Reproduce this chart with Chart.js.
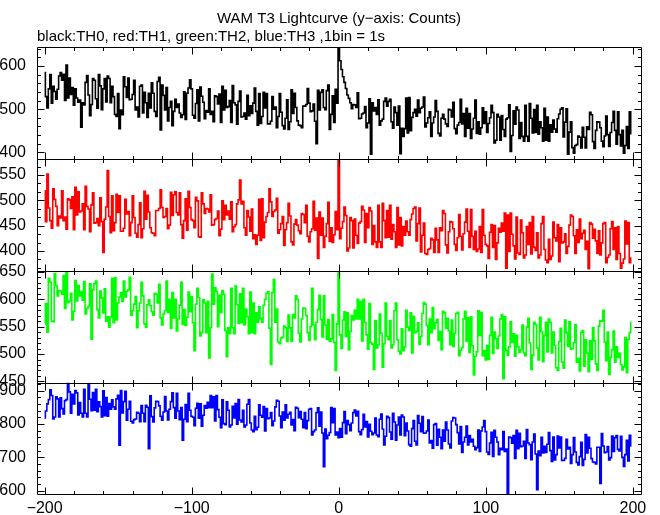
<!DOCTYPE html>
<html lang="en">
<head>
    <meta charset="UTF-8">
    <title>WAM T3 Lightcurve</title>
    <script src="https://cdn.jsdelivr.net/npm/chart.js"></script>
    <style>
        body { margin: 0; background: #ffffff; }
        canvas { display: block; }
    </style>
</head>
<body>
    <canvas id="lc" width="660" height="515"></canvas>
    <script>
        // time bins: 1 bin = 1 s, first bin at -200 s
        const binStart = -200;
        const binSize = 1;

        // TH0 (black)
        const th0 = [
            585,529,503,547,580,514,553,541,523,546,577,585,567,581,520,602,526,572,534,550,
            509,547,526,516,521,458,515,510,562,578,533,485,511,571,567,524,502,580,554,499,
            547,571,517,577,571,515,553,529,488,483,536,455,498,487,575,552,527,572,522,523,
            534,567,498,505,482,553,556,491,539,515,481,537,503,561,537,495,483,564,574,452,
            556,532,498,550,473,504,518,462,495,523,504,512,491,481,487,540,476,537,549,568,
            547,486,479,513,545,473,551,530,516,478,497,493,547,488,495,471,531,529,512,535,
            469,553,498,544,504,506,520,469,555,515,510,465,518,542,482,483,491,477,532,485,
            508,490,514,549,495,463,536,467,483,539,503,536,466,466,472,529,500,505,457,483,
            536,493,462,454,479,522,453,471,545,490,537,504,473,463,462,457,507,507,511,548,
            514,494,496,512,472,420,544,498,539,545,504,499,543,556,453,488,531,469,546,514,
            650,612,592,575,562,548,533,525,515,501,511,510,504,538,478,479,489,491,506,457,
            468,524,396,515,496,504,488,522,463,473,477,518,526,507,518,523,471,456,505,492,
            463,507,397,456,437,455,526,445,527,450,481,492,500,484,521,492,502,505,528,459,
            468,480,494,437,468,482,520,495,444,438,479,488,477,466,460,500,498,482,516,455,
            443,463,469,523,466,490,437,502,456,490,432,454,479,521,444,471,442,457,503,467,
            494,446,467,480,509,492,422,428,488,482,428,485,453,437,477,480,510,402,439,496,
            465,505,498,432,469,437,426,509,437,426,513,479,445,499,446,509,442,471,457,426,
            502,428,482,426,464,447,475,454,447,478,489,500,503,436,470,501,396,447,471,411,
            398,416,418,438,435,410,458,435,410,459,453,493,487,425,409,451,471,470,457,426,
            413,438,484,441,414,446,469,495,451,419,494,441,415,451,398,416,460,409,494,443
        ];

        // TH1 (red)
        const th1 = [
            519,458,552,485,460,445,523,502,488,450,469,465,519,460,467,443,503,501,484,507,
            442,526,471,517,477,479,493,442,528,488,483,438,491,515,455,456,464,450,505,458,
            397,463,487,559,468,436,509,440,456,512,476,509,439,439,445,502,473,478,430,456,
            509,466,435,427,452,495,426,444,518,463,510,477,446,436,435,430,480,480,484,521,
            486,466,468,484,444,451,516,470,511,517,476,471,515,452,425,460,503,441,518,486,
            462,460,446,506,499,428,427,515,493,474,484,483,477,511,451,452,462,464,479,430,
            443,499,462,490,471,479,463,497,438,448,452,493,501,540,493,498,446,431,480,467,
            439,483,424,432,413,431,502,421,503,426,457,468,476,523,497,468,478,481,504,435,
            442,454,468,411,442,456,494,469,418,412,453,462,451,440,434,474,472,456,490,429,
            418,438,444,498,441,465,385,477,431,465,407,429,454,496,419,446,417,432,478,442,
            582,424,445,458,487,470,400,406,466,460,406,463,431,415,455,458,488,481,417,474,
            446,486,479,413,450,418,407,490,418,407,494,460,426,480,427,490,423,452,438,407,
            486,412,466,410,448,431,459,438,431,462,473,484,487,420,454,485,398,431,455,395,
            393,403,405,425,422,397,445,422,397,446,440,480,474,412,396,438,458,457,444,413,
            401,426,472,429,402,434,457,483,439,407,482,429,403,439,399,404,448,397,482,431,
            413,410,385,437,452,407,450,383,416,445,437,455,439,475,366,471,399,475,433,410,
            384,467,396,393,461,436,386,392,448,413,456,394,468,407,401,436,386,392,454,468,
            403,382,377,423,383,390,457,426,420,452,379,446,416,418,434,395,409,451,471,468,
            430,395,442,417,463,424,435,441,403,419,365,456,453,425,443,420,395,440,392,416,
            454,456,377,387,392,444,458,403,446,383,448,395,366,376,384,459,414,456,377,386
        ];

        // TH2 (green)
        const th2 = [
            555,592,540,638,631,560,559,647,625,606,616,615,609,643,583,655,594,596,611,562,
            578,634,597,625,606,614,598,632,573,583,587,628,527,617,628,633,581,566,615,602,
            575,619,560,568,549,567,638,557,639,562,593,604,612,596,633,604,614,617,640,571,
            579,591,605,548,579,593,631,606,555,549,590,599,588,577,571,611,609,593,627,566,
            553,573,579,633,576,600,547,612,566,600,542,564,589,631,554,581,552,567,613,577,
            605,557,506,591,620,603,533,539,599,593,539,596,493,548,646,591,621,614,550,607,
            576,616,609,543,495,548,537,620,548,537,624,590,556,610,557,620,553,582,568,537,
            613,539,593,537,575,558,586,565,558,589,600,611,614,547,481,612,636,558,582,522,
            519,529,531,551,548,523,571,548,523,572,566,606,600,538,522,564,584,583,570,539,
            525,550,620,553,526,558,581,607,563,531,606,553,527,563,523,528,572,521,470,555,
            662,535,510,562,577,532,575,508,541,570,562,580,564,600,564,596,524,600,558,535,
            509,592,521,518,472,561,511,517,573,538,476,519,593,532,526,561,511,517,579,593,
            526,505,500,546,506,513,580,549,543,575,502,569,539,541,557,518,532,574,594,591,
            552,517,564,539,585,546,557,563,525,541,508,578,575,547,565,542,517,562,514,538,
            574,576,497,507,512,564,578,523,566,503,568,515,462,496,504,579,534,576,497,506,
            489,516,490,534,567,501,540,528,510,533,564,572,455,568,507,498,513,559,521,537,
            496,534,513,503,508,553,502,497,549,565,520,472,498,558,554,511,489,567,541,486,
            534,558,504,564,558,502,540,516,475,470,523,547,485,474,562,539,514,559,509,510,
            521,554,485,492,469,540,543,478,526,502,468,524,490,548,524,482,470,551,561,560,
            580,522,488,540,463,494,508,542,485,513,494,502,481,471,477,530,466,527,539,558
        ];

        // TH3 (blue)
        const th3 = [
            818,839,860,873,902,885,815,821,881,875,821,878,846,830,870,873,925,896,832,889,
            860,900,893,827,864,832,821,904,832,821,922,874,840,894,841,904,837,866,852,821,
            899,825,879,823,861,844,872,851,844,875,886,736,900,833,867,898,811,844,868,808,
            803,813,815,835,832,807,855,832,807,856,850,726,884,822,806,848,868,867,854,823,
            811,836,882,839,812,844,867,893,849,817,892,839,813,849,751,814,858,807,892,841,
            823,820,795,847,862,817,860,793,826,855,847,865,849,885,849,881,809,885,843,820,
            789,872,801,798,866,841,791,797,853,818,861,799,873,812,806,841,791,797,859,873,
            803,782,777,823,783,790,857,826,820,852,779,846,816,818,834,795,809,851,871,868,
            824,789,836,811,857,818,829,835,797,813,780,850,847,819,837,814,789,834,786,810,
            844,846,767,777,782,834,848,793,836,773,672,785,756,766,774,849,804,846,767,776,
            759,786,760,804,837,771,810,798,780,803,834,842,824,838,777,768,783,829,791,807,
            761,799,778,768,773,818,767,762,814,830,785,737,763,823,819,776,754,832,806,751,
            797,821,767,827,821,765,803,779,738,733,786,810,748,737,825,802,777,822,772,773,
            779,812,743,750,727,798,801,736,784,760,726,782,748,806,782,740,728,809,819,818,
            798,774,740,792,715,746,760,794,737,765,746,754,733,723,729,782,718,779,791,810,
            777,716,709,743,775,703,781,760,746,708,727,723,777,718,725,592,761,759,742,765,
            697,781,726,772,732,734,748,697,783,743,738,693,746,770,710,603,719,705,760,713,
            733,715,739,774,720,688,761,692,708,764,728,761,691,691,697,754,725,730,682,708,
            759,716,685,677,702,745,676,694,768,713,760,727,696,686,685,680,730,730,622,771,
            734,714,716,732,692,699,764,718,759,765,724,719,763,700,673,708,751,689,766,734
        ];

        const xTicks = [-200, -100, 0, 100, 200];
        const yTicks0 = [400, 500, 600];
        const yTicks1 = [400, 450, 500, 550];
        const yTicks2 = [450, 500, 550, 600, 650];
        const yTicks3 = [600, 700, 800, 900];

        // axis limits [min, max] of each panel
        const yLim0 = [385, 644];
        const yLim1 = [361, 582];
        const yLim2 = [448, 652];
        const yLim3 = [589, 924];

        // minor / major tick steps per panel
        const minorStep = { y0: 20, y1: 50 / 3, y2: 10, y3: 20 };
        const majorStep = { y0: 100, y1: 50, y2: 50, y3: 100 };

        Chart.defaults.font.family = '"Liberation Sans", Arial, sans-serif';
        Chart.defaults.color = '#000';

        function toPoints(arr) {
            return arr.map((v, i) => ({ x: binStart + i * binSize, y: v }));
        }

        function line(label, arr, axis, color) {
            return {
                label: label,
                data: toPoints(arr),
                yAxisID: axis,
                borderColor: color,
                borderWidth: 1.6,
                pointRadius: 0,
                stepped: 'middle',
                fill: false
            };
        }

        function yAxis(lim, ticks) {
            return {
                type: 'linear',
                position: 'left',
                stack: 'lc',
                stackWeight: 1,
                min: lim[0],
                max: lim[1],
                grid: { display: false, drawTicks: false },
                border: { display: false },
                ticks: { font: { size: 16 }, padding: 11, autoSkip: false },
                afterBuildTicks: s => { s.ticks = ticks.map(v => ({ value: v })); },
                afterFit: s => { s.width = 37; }
            };
        }

        // keep each curve inside its own panel
        const panelClip = {
            id: 'panelClip',
            beforeDatasetDraw(chart, args) {
                const s = chart.scales[args.meta.yAxisID];
                const a = chart.chartArea;
                chart.ctx.save();
                chart.ctx.beginPath();
                chart.ctx.rect(a.left, s.top, a.right - a.left, s.bottom - s.top);
                chart.ctx.clip();
            },
            afterDatasetDraw(chart) {
                chart.ctx.restore();
            }
        };

        // panel frames with inward ticks on all sides
        const frames = {
            id: 'frames',
            afterDatasetsDraw(chart) {
                const ctx = chart.ctx;
                const a = chart.chartArea;
                const xs = chart.scales.x;
                const snap = v => Math.round(v) + 0.5;
                ctx.save();
                ctx.strokeStyle = '#000';
                ctx.lineWidth = 1;
                ['y0', 'y1', 'y2', 'y3'].forEach(id => {
                    const s = chart.scales[id];
                    const top = snap(s.top), bot = snap(s.bottom);
                    const l = snap(a.left), r = snap(a.right);
                    ctx.beginPath();
                    ctx.rect(l, top, r - l, bot - top);
                    for (let v = -200; v <= 200; v += 20) {
                        const px = snap(xs.getPixelForValue(v));
                        const len = v % 100 === 0 ? 7 : 3.5;
                        ctx.moveTo(px, top); ctx.lineTo(px, top + len);
                        ctx.moveTo(px, bot); ctx.lineTo(px, bot - len);
                    }
                    const st = minorStep[id], mj = majorStep[id];
                    const first = Math.ceil(s.min / st - 1e-6);
                    for (let k = first; k * st <= s.max + 1e-6; k++) {
                        const v = k * st;
                        const py = snap(s.getPixelForValue(v));
                        const isMajor = Math.abs(v / mj - Math.round(v / mj)) < 1e-6;
                        const len = isMajor ? 7 : 3.5;
                        ctx.moveTo(l, py); ctx.lineTo(l + len, py);
                        ctx.moveTo(r, py); ctx.lineTo(r - len, py);
                    }
                    ctx.stroke();
                });
                ctx.restore();
            }
        };

        new Chart(document.getElementById('lc'), {
            type: 'line',
            data: {
                datasets: [
                    line('TH0', th0, 'y0', '#000000'),
                    line('TH1', th1, 'y1', '#ff0000'),
                    line('TH2', th2, 'y2', '#00ff00'),
                    line('TH3', th3, 'y3', '#0000ff')
                ]
            },
            options: {
                responsive: false,
                animation: false,
                events: [],
                layout: { padding: { left: 0, right: 19, top: 0, bottom: 0 } },
                plugins: {
                    legend: { display: false },
                    tooltip: { enabled: false },
                    title: {
                        display: true,
                        text: 'WAM T3 Lightcurve (y\u2212axis: Counts)',
                        fullSize: false,
                        font: { size: 15, weight: 'normal' },
                        padding: { top: 10, bottom: 0 }
                    },
                    subtitle: {
                        display: true,
                        text: 'black:TH0, red:TH1, green:TH2, blue:TH3 ,1bin = 1s',
                        fullSize: false,
                        align: 'start',
                        font: { size: 15, weight: 'normal' },
                        padding: { top: 0, bottom: 1 }
                    }
                },
                scales: {
                    x: {
                        type: 'linear',
                        min: -205.2,
                        max: 205.5,
                        grid: { display: false, drawTicks: false },
                        border: { display: false },
                        ticks: {
                            font: { size: 16 },
                            padding: 5,
                            autoSkip: false,
                            maxRotation: 0,
                            callback: v => String(v).replace('-', '\u2212')
                        },
                        afterBuildTicks: s => { s.ticks = xTicks.map(v => ({ value: v })); },
                        afterFit: s => { s.height = 19; }
                    },
                    y3: yAxis(yLim3, yTicks3),
                    y2: yAxis(yLim2, yTicks2),
                    y1: yAxis(yLim1, yTicks1),
                    y0: yAxis(yLim0, yTicks0)
                }
            },
            plugins: [panelClip, frames]
        });
    </script>
</body>
</html>
